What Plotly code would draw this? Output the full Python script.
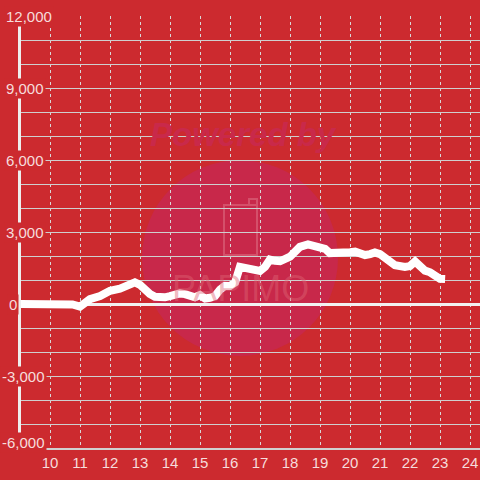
import plotly.graph_objects as go

# ---- data ----
hours = [9.0, 10.0, 10.5, 10.75, 11.0, 11.17, 11.33, 11.67, 12.0, 12.33, 12.67, 12.83,
         13.0, 13.17, 13.33, 13.5, 13.67, 13.83, 14.0, 14.33, 14.5, 14.67, 14.83, 15.0,
         15.17, 15.33, 15.5, 15.67, 15.83, 16.0, 16.17, 16.33, 16.5, 16.67, 17.0, 17.17,
         17.33, 17.5, 17.67, 18.0, 18.33, 18.6, 18.83, 19.0, 19.17, 19.33, 19.67, 19.83,
         20.0, 20.17, 20.33, 20.5, 20.67, 20.83, 21.0, 21.17, 21.33, 21.5, 21.83, 22.0,
         22.17, 22.33, 22.5, 22.67, 22.83, 23.0, 23.17]
values = [0, 0, 0, -20, -110, 50, 200, 330, 550, 640, 800, 900,
          800, 580, 420, 300, 260, 280, 330, 440, 410, 300, 280, 370,
          230, 260, 330, 600, 760, 750, 900, 1550, 1520, 1420, 1380, 1550,
          1850, 1800, 1780, 1970, 2380, 2480, 2430, 2370, 2300, 2120, 2100, 2170,
          2160, 2180, 2120, 2040, 2080, 2150, 2080, 1950, 1750, 1620, 1540, 1580,
          1770, 1560, 1390, 1320, 1170, 1050, 1040]
x_ticks = list(range(10, 25))
y_label_values = [12000, 9000, 6000, 3000, 0, -3000, -6000]
y_label_texts = ["12,000", "9,000", "6,000", "3,000", "0", "-3,000", "-6,000"]

BG = "#CC2A2F"
TXT = "#F6DCDC"
FONT = "Liberation Sans"


def px_x(p):
    return (p - 21) / 459


def px_y(p):
    return (448 - p) / 432


fig = go.Figure()
fig.add_trace(go.Scatter(x=hours, y=values, mode="lines",
                         line=dict(color="white", width=8), hoverinfo="skip"))

# watermark
fig.add_shape(type="circle", xref="paper", yref="paper", layer="below",
              x0=px_x(142), x1=px_x(338), y0=px_y(356), y1=px_y(160),
              fillcolor="#C8284A", line=dict(width=0))
fig.add_shape(type="rect", xref="paper", yref="paper", layer="below",
              x0=px_x(224), x1=px_x(257), y0=px_y(255), y1=px_y(205),
              fillcolor="rgba(0,0,0,0)", line=dict(color="#D4506A", width=2))
fig.add_shape(type="rect", xref="paper", yref="paper", layer="below",
              x0=px_x(249), x1=px_x(257), y0=px_y(205), y1=px_y(199),
              fillcolor="rgba(0,0,0,0)", line=dict(color="#D4506A", width=2))
fig.add_annotation(text="<b><i>Powered by</i></b>", xref="paper", yref="paper",
                   x=px_x(243), y=px_y(135), xanchor="center", yanchor="middle",
                   showarrow=False,
                   font=dict(family=FONT, size=33, color="#C9294A"))
fig.add_annotation(text="PAPIMO", xref="paper", yref="paper",
                   x=px_x(240), y=px_y(288), xanchor="center", yanchor="middle",
                   showarrow=False,
                   font=dict(family=FONT, size=36, color="rgba(222,100,116,0.45)"))

# y labels as boxed annotations
left_px = {"12,000": 6, "9,000": 6, "6,000": 6, "3,000": 6, "0": 9, "-3,000": 2, "-6,000": 2}
lift_px = {"-6,000": 6}
for v, t in zip(y_label_values, y_label_texts):
    fig.add_annotation(text=t, xref="paper", yref="y", x=0, y=v, xanchor="left",
                       yanchor="middle", xshift=left_px[t] - 21 - 2,
                       yshift=lift_px.get(t, 0), showarrow=False,
                       bgcolor=BG, borderpad=1,
                       font=dict(family=FONT, size=15, color=TXT))

fig.update_layout(
    width=480, height=480,
    margin=dict(l=21, r=0, t=16, b=32),
    paper_bgcolor=BG, plot_bgcolor=BG,
    showlegend=False,
    xaxis=dict(range=[9.0333, 24.3333], tickvals=x_ticks, ticktext=[str(v) for v in x_ticks],
               showgrid=True, gridcolor="#D8D8D8", gridwidth=1, griddash="dot",
               zeroline=False, showline=True, linecolor="#D0D0D0", linewidth=2,
               ticks="", automargin=False, tickfont=dict(family=FONT, size=15, color=TXT)),
    yaxis=dict(range=[-6000, 12000], dtick=1000, showticklabels=False, automargin=False,
               showgrid=True, gridcolor="#CFCFCF", gridwidth=1,
               zeroline=True, zerolinecolor="#F2F2F2", zerolinewidth=3,
               showline=True, linecolor="#EEEEEE", linewidth=3, ticks=""),
)

fig.write_html("out.html", config={"displayModeBar": False},
               post_script="document.body.style.margin='0px';")
